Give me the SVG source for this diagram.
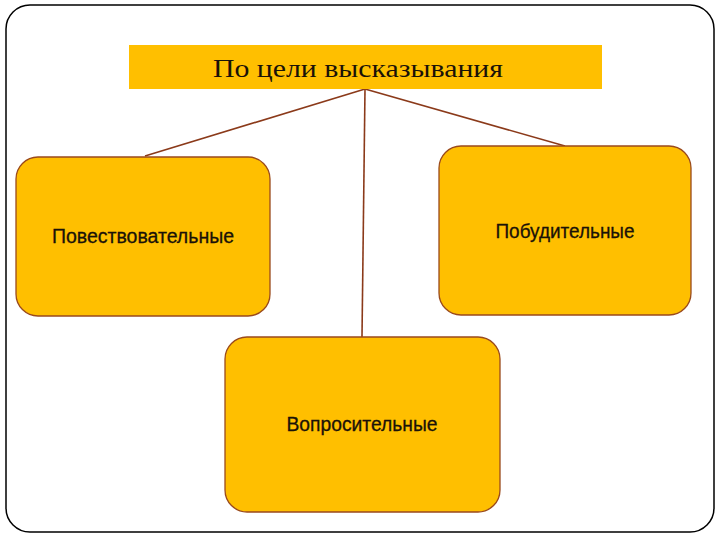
<svg xmlns="http://www.w3.org/2000/svg" width="720" height="540" viewBox="0 0 720 540">
<style>
.box{fill:#FFBF00;stroke:#9A4A1C;stroke-width:1.3}
.lbl{font-family:"Liberation Sans",Arial,sans-serif;font-size:20px;fill:#1a1208;text-anchor:middle;stroke:#1a1208;stroke-width:0.3}
.conn{stroke:#8B3A1A;stroke-width:1.6;fill:none}
</style>
<rect width="720" height="540" fill="#ffffff"/>
<rect x="6" y="5" width="708" height="527" rx="24" ry="24" fill="none" stroke="#000" stroke-width="1.5"/>
<g id="connectors">
<line class="conn" x1="365" y1="89" x2="145" y2="156"/>
<line class="conn" x1="365" y1="89" x2="565" y2="146"/>
<line class="conn" x1="365" y1="89" x2="362" y2="337"/>
</g>
<g id="title">
<rect x="129" y="45" width="473" height="44" fill="#FFBF00"/>
<text x="358" y="77" font-family="Liberation Serif,'Times New Roman',serif" font-size="26" fill="#1a1208" text-anchor="middle" textLength="290" lengthAdjust="spacingAndGlyphs">По цели высказывания</text>
</g>
<g id="node-left">
<rect class="box" x="16" y="157" width="254" height="159" rx="22" ry="22"/>
<text class="lbl" x="143" y="243" textLength="182" lengthAdjust="spacingAndGlyphs">Повествовательные</text>
</g>
<g id="node-right">
<rect class="box" x="439" y="146" width="252" height="169" rx="22" ry="22"/>
<text class="lbl" x="565" y="238" textLength="139" lengthAdjust="spacingAndGlyphs">Побудительные</text>
</g>
<g id="node-bottom">
<rect class="box" x="225" y="337" width="275" height="175" rx="22" ry="22"/>
<text class="lbl" x="362" y="431" textLength="151" lengthAdjust="spacingAndGlyphs">Вопросительные</text>
</g>
</svg>
